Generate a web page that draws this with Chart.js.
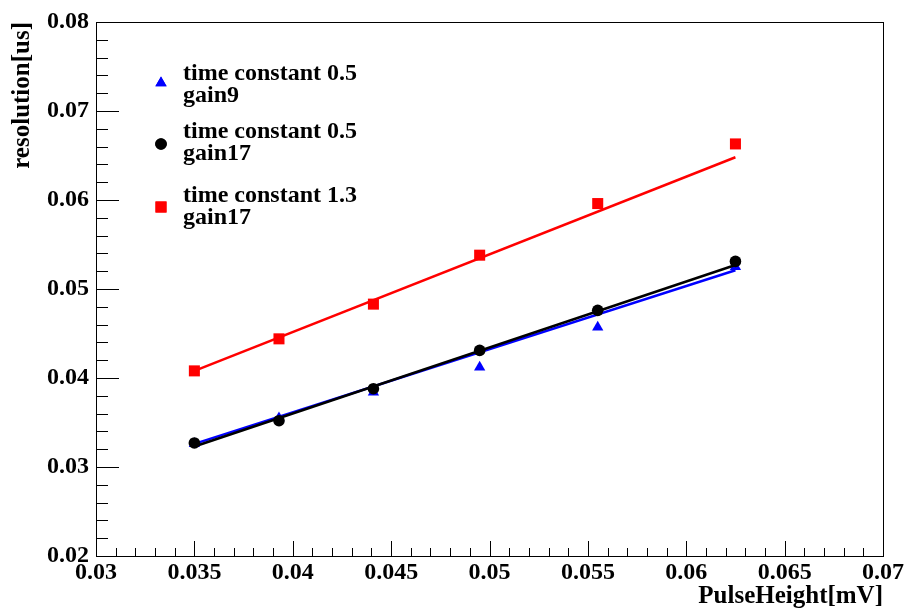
<!DOCTYPE html>
<html>
<head>
<meta charset="utf-8">
<script src="https://cdn.jsdelivr.net/npm/chart.js@4.4.1/dist/chart.umd.min.js"></script>
<style>
  html, body { margin: 0; padding: 0; background: #fff; }
  canvas { display: block; }
</style>
</head>
<body>
<canvas id="myChart" width="904" height="612"></canvas>
<script>
// pulse heights [mV]
const pulseHeight = [0.035, 0.0393, 0.0441, 0.0495, 0.0555, 0.0625];

// resolution [us] per setting
const resGain9 = [0.0326, 0.0355, 0.0384, 0.0412, 0.0457, 0.0525];
const resGain17 = [0.0327, 0.0352, 0.0388, 0.0431, 0.0476, 0.0531];
const resTc13 = [0.0408, 0.0444, 0.0483, 0.0538, 0.0596, 0.0663];

// fitted lines, end points
const fitX = [0.035, 0.0625];
const fitGain9 = [0.0326, 0.0521];
const fitGain17 = [0.0323, 0.0527];
const fitTc13 = [0.0408, 0.0648];

const xTicks = [0.03, 0.035, 0.04, 0.045, 0.05, 0.055, 0.06, 0.065, 0.07];
const xTickLabels = ['0.03', '0.035', '0.04', '0.045', '0.05', '0.055', '0.06', '0.065', '0.07'];
const yTicks = [0.02, 0.03, 0.04, 0.05, 0.06, 0.07, 0.08];
const yTickLabels = ['0.02', '0.03', '0.04', '0.05', '0.06', '0.07', '0.08'];

const legendLine1 = ['time constant 0.5', 'time constant 0.5', 'time constant 1.3'];
const legendLine2 = ['gain9', 'gain17', 'gain17'];

const serif = '"Liberation Serif", "DejaVu Serif", serif';

const toXY = (xs, ys) => xs.map((x, i) => ({ x: x, y: ys[i] }));

const markers = [
  { pointStyle: 'triangle', radius: 6.5, color: '#0000ff' },
  { pointStyle: 'circle', radius: 5.8, color: '#000000' },
  { pointStyle: 'rect', radius: 7.8, color: '#ff0000' },
];

function pointSet(data, m) {
  return {
    type: 'scatter',
    data: data,
    showLine: false,
    pointStyle: m.pointStyle,
    pointRadius: m.radius,
    pointBackgroundColor: m.color,
    pointBorderColor: m.color,
    pointBorderWidth: 0,
  };
}

function fitSet(data, color) {
  return {
    type: 'line',
    data: data,
    borderColor: color,
    borderWidth: 2.5,
    pointRadius: 0,
    fill: false,
  };
}

// ROOT-like frame with inside ticks
const frameTicks = {
  id: 'frameTicks',
  afterDraw(chart) {
    const { ctx, chartArea: a, scales } = chart;
    const sx = scales.x;
    const sy = scales.y;
    ctx.save();
    ctx.strokeStyle = '#000';
    ctx.lineWidth = 1;
    ctx.strokeRect(a.left + 0.5, a.top + 0.5, a.right - a.left, a.bottom - a.top);
    ctx.beginPath();
    for (let i = 0; i < xTicks.length; i++) {
      const px = Math.round(sx.getPixelForValue(xTicks[i])) + 0.5;
      ctx.moveTo(px, a.bottom);
      ctx.lineTo(px, a.bottom - 15);
      if (i < xTicks.length - 1) {
        const step = (xTicks[i + 1] - xTicks[i]) / 5;
        for (let k = 1; k < 5; k++) {
          const mx = Math.round(sx.getPixelForValue(xTicks[i] + k * step)) + 0.5;
          ctx.moveTo(mx, a.bottom);
          ctx.lineTo(mx, a.bottom - 8);
        }
      }
    }
    for (let i = 0; i < yTicks.length; i++) {
      const py = Math.round(sy.getPixelForValue(yTicks[i])) + 0.5;
      ctx.moveTo(a.left, py);
      ctx.lineTo(a.left + 23, py);
      if (i < yTicks.length - 1) {
        const step = (yTicks[i + 1] - yTicks[i]) / 5;
        for (let k = 1; k < 5; k++) {
          const my = Math.round(sy.getPixelForValue(yTicks[i] + k * step)) + 0.5;
          ctx.moveTo(a.left, my);
          ctx.lineTo(a.left + 12, my);
        }
      }
    }
    ctx.stroke();
    ctx.restore();
  },
};

// two-line legend entries like the ROOT TLegend
const rootLegend = {
  id: 'rootLegend',
  afterDraw(chart) {
    const ctx = chart.ctx;
    const markerY = [83, 144, 207];
    const textY = [80, 138, 202];
    ctx.save();
    ctx.font = 'bold 24px ' + serif;
    ctx.textAlign = 'left';
    ctx.textBaseline = 'alphabetic';
    for (let i = 0; i < legendLine1.length; i++) {
      const m = markers[i];
      ctx.fillStyle = m.color;
      ctx.strokeStyle = m.color;
      Chart.helpers.drawPoint(ctx, { pointStyle: m.pointStyle, radius: m.radius, rotation: 0, borderWidth: 0 }, 161, markerY[i]);
      ctx.fill();
      ctx.fillStyle = '#000';
      ctx.fillText(legendLine1[i], 183, textY[i]);
      ctx.fillText(legendLine2[i], 183, textY[i] + 22);
    }
    ctx.restore();
  },
};

const ctx = document.getElementById('myChart');

const chart = new Chart(ctx, {
  data: {
    datasets: [
      pointSet(toXY(pulseHeight, resGain17), markers[1]),
      fitSet(toXY(fitX, fitGain17), '#000000'),
      pointSet(toXY(pulseHeight, resGain9), markers[0]),
      fitSet(toXY(fitX, fitGain9), '#0000ff'),
      pointSet(toXY(pulseHeight, resTc13), markers[2]),
      fitSet(toXY(fitX, fitTc13), '#ff0000'),
    ],
  },
  options: {
    responsive: false,
    animation: false,
    layout: { padding: { top: 22, right: 21, left: 0, bottom: 0 } },
    plugins: {
      legend: { display: false },
      tooltip: { enabled: false },
    },
    scales: {
      x: {
        type: 'linear',
        min: 0.03,
        max: 0.07,
        afterFit(scale) {
          scale.height = 56;
          scale.paddingLeft = 0;
          scale.paddingRight = 0;
        },
        afterBuildTicks(scale) { scale.ticks = xTicks.map(v => ({ value: v })); },
        grid: { display: false },
        border: { display: false },
        ticks: {
          autoSkip: false,
          maxRotation: 0,
          padding: -6,
          color: '#000',
          font: { family: serif, size: 24, weight: 'bold' },
          callback: (v, i) => xTickLabels[i],
        },
        title: {
          display: true,
          text: 'PulseHeight[mV]',
          align: 'end',
          color: '#000',
          font: { family: serif, size: 25, weight: 'bold' },
          padding: { top: 0, bottom: 0 },
        },
      },
      y: {
        type: 'linear',
        min: 0.02,
        max: 0.08,
        afterFit(scale) {
          scale.width = 96;
          scale.paddingTop = 0;
          scale.paddingBottom = 0;
        },
        afterBuildTicks(scale) { scale.ticks = yTicks.map(v => ({ value: v })); },
        grid: { display: false },
        border: { display: false },
        ticks: {
          autoSkip: false,
          padding: -1,
          color: '#000',
          font: { family: serif, size: 24, weight: 'bold' },
          callback: (v, i) => yTickLabels[i],
        },
        title: {
          display: true,
          text: 'resolution[us]',
          align: 'end',
          color: '#000',
          font: { family: serif, size: 25, weight: 'bold' },
          padding: { top: 8, bottom: 0 },
        },
      },
    },
  },
  plugins: [frameTicks, rootLegend],
});
</script>
</body>
</html>
